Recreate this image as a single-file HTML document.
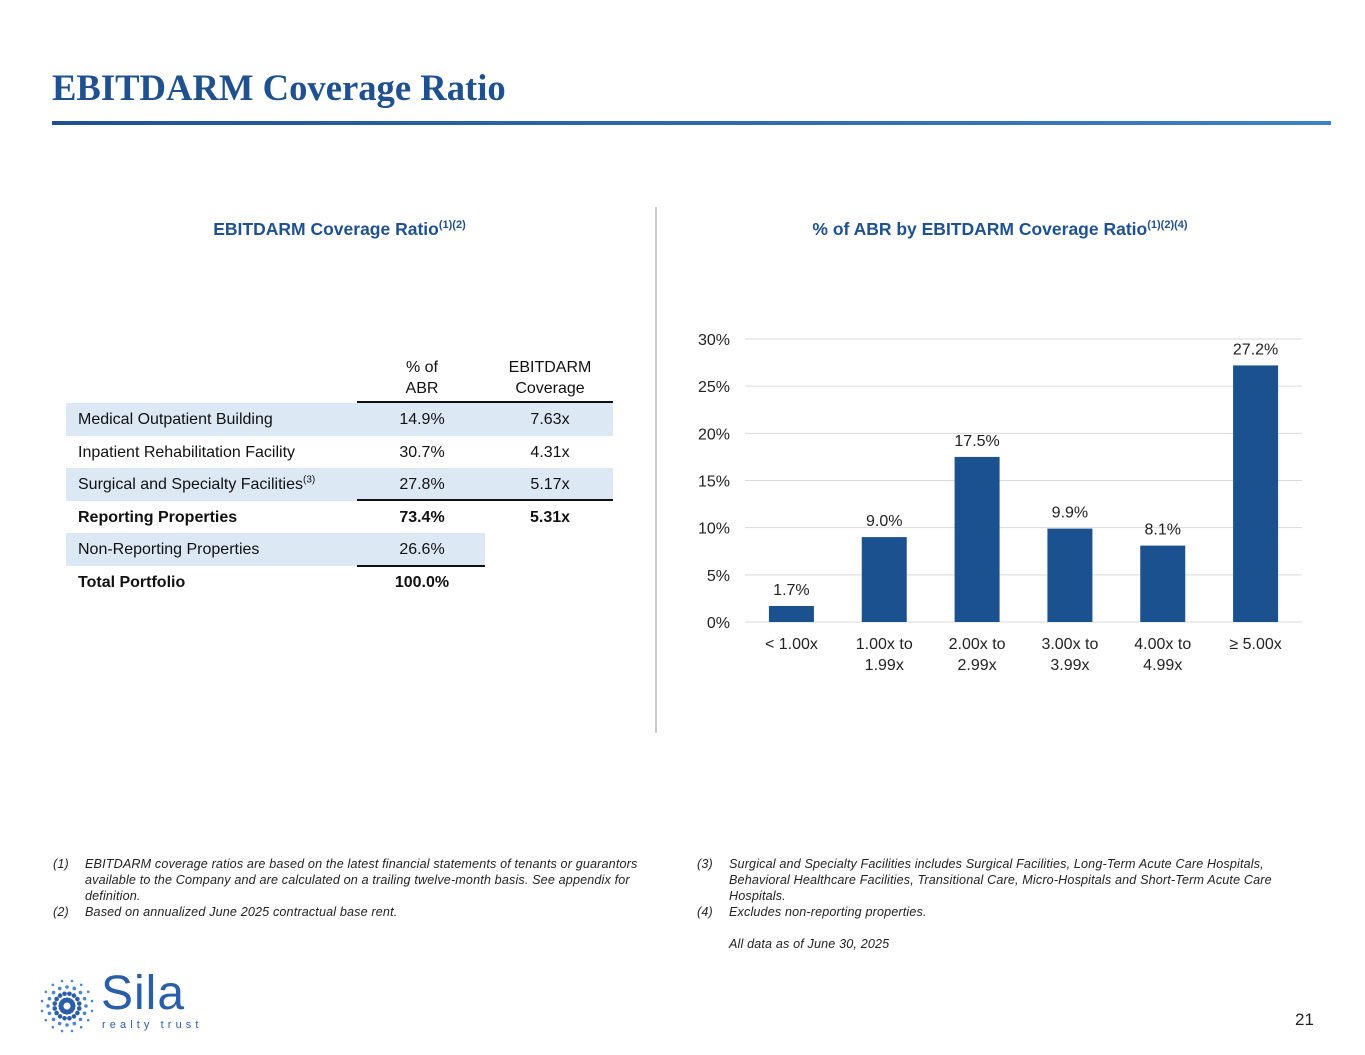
<!DOCTYPE html>
<html><head><meta charset="utf-8"><style>
body{margin:0;width:1365px;height:1055px;background:#fff;position:relative;font-family:"Liberation Sans",sans-serif;overflow:hidden}
.a{position:absolute}
.t{font-family:"Liberation Serif",serif;font-weight:bold;color:#1f5190;font-size:37px;left:52px;top:67px;transform:scaleX(0.99);transform-origin:left}
.h{color:#1f5190;font-weight:bold;font-size:17.5px;text-align:center}
.h sup{font-size:11px}
.row{position:absolute;left:66px;height:33px;font-size:16px;color:#111;line-height:33px}
.c{position:absolute;text-align:center;width:130px}
.fn{font-size:12.6px;letter-spacing:0.15px;font-style:italic;color:#222;line-height:16px}
.fn .n{position:absolute;left:0}
.fn .x{margin-left:32px}
</style></head><body>
<div class="a t">EBITDARM Coverage Ratio</div>
<div class="a" style="left:52px;top:121px;width:1279px;height:4px;background:linear-gradient(90deg,#1f5190,#3d82c4)"></div>
<div class="a h" style="left:66px;width:547px;top:219px">EBITDARM Coverage Ratio<sup>(1)(2)</sup></div>
<div class="a h" style="left:700px;width:600px;top:219px">% of ABR by EBITDARM Coverage Ratio<sup>(1)(2)(4)</sup></div>
<div class="a" style="left:655px;top:207px;width:2px;height:526px;background:#ccc"></div>

<div class="a" style="left:0;top:0">
<div class="a" style="left:357px;top:357px;width:130px;text-align:center;font-size:16px;line-height:21px;color:#111">% of<br>ABR</div>
<div class="a" style="left:485px;top:357px;width:130px;text-align:center;font-size:16px;line-height:21px;color:#111">EBITDARM<br>Coverage</div>
<div class="a" style="left:357px;top:401px;width:256px;height:2px;background:#111"></div>
<div class="row" style="top:403px;width:547px;background:#dde8f5"><span style="margin-left:12px">Medical Outpatient Building</span><span class="c" style="left:291px">14.9%</span><span class="c" style="left:419px">7.63x</span></div>
<div class="row" style="top:436px;width:547px"><span style="margin-left:12px">Inpatient Rehabilitation Facility</span><span class="c" style="left:291px">30.7%</span><span class="c" style="left:419px">4.31x</span></div>
<div class="row" style="top:468px;width:547px;background:#dde8f5"><span style="margin-left:12px">Surgical and Specialty Facilities<sup style="font-size:10px;line-height:0">(3)</sup></span><span class="c" style="left:291px">27.8%</span><span class="c" style="left:419px">5.17x</span></div>
<div class="a" style="left:357px;top:499px;width:256px;height:2px;background:#111"></div>
<div class="row" style="top:501px;width:547px;font-weight:bold"><span style="margin-left:12px">Reporting Properties</span><span class="c" style="left:291px">73.4%</span><span class="c" style="left:419px">5.31x</span></div>
<div class="row" style="top:533px;width:419px;background:#dde8f5"><span style="margin-left:12px">Non-Reporting Properties</span><span class="c" style="left:291px">26.6%</span></div>
<div class="a" style="left:357px;top:565px;width:128px;height:2px;background:#111"></div>
<div class="row" style="top:566px;width:547px;font-weight:bold"><span style="margin-left:12px">Total Portfolio</span><span class="c" style="left:291px">100.0%</span></div>
</div>

<svg class="a" style="left:0;top:0" width="1365" height="1055" id="chart"></svg>

<div class="a fn" style="left:53px;top:856px;width:605px">
<div style="position:relative"><span class="n">(1)</span><div class="x">EBITDARM coverage ratios are based on the latest financial statements of tenants or guarantors available to the Company and are calculated on a trailing twelve-month basis. See appendix for definition.</div></div>
<div style="position:relative"><span class="n">(2)</span><div class="x">Based on annualized June 2025 contractual base rent.</div></div>
</div>
<div class="a fn" style="left:697px;top:856px;width:605px">
<div style="position:relative"><span class="n">(3)</span><div class="x">Surgical and Specialty Facilities includes Surgical Facilities, Long-Term Acute Care Hospitals, Behavioral Healthcare Facilities, Transitional Care, Micro-Hospitals and Short-Term Acute Care Hospitals.</div></div>
<div style="position:relative"><span class="n">(4)</span><div class="x">Excludes non-reporting properties.</div></div>
<div class="x" style="margin-top:16px">All data as of June 30, 2025</div>
</div>

<svg class="a" style="left:37px;top:976px" width="60" height="60" id="logo"></svg>
<div class="a" style="left:101px;top:966px;font-size:48px;color:#2a5ea8;letter-spacing:1px">Sila</div>
<div class="a" style="left:102px;top:1019px;font-size:11px;color:#2a5ea8;letter-spacing:4.1px">realty trust</div>
<div class="a" style="left:1295px;top:1010px;font-size:17px;color:#222">21</div>

<script>
const categories=["< 1.00x","1.00x to|1.99x","2.00x to|2.99x","3.00x to|3.99x","4.00x to|4.99x","≥ 5.00x"];
const values=[1.7,9.0,17.5,9.9,8.1,27.2];
const valueLabels=["1.7%","9.0%","17.5%","9.9%","8.1%","27.2%"];
const ticks=[0,5,10,15,20,25,30];
const NS="http://www.w3.org/2000/svg";
const svg=document.getElementById('chart');
const y0=622,yTop=339,xL=745,xR=1302;
const y=v=>y0-(v/30)*(y0-yTop);
const step=(xR-xL)/categories.length;
const x=i=>xL+step*(i+0.5);
function mk(t,a){const e=document.createElementNS(NS,t);for(const k in a)e.setAttribute(k,a[k]);svg.appendChild(e);return e;}
ticks.forEach(t=>{
 const l=mk('line',{x1:xL,x2:xR,y1:y(t),y2:y(t),stroke:'#d9d9d9','stroke-width':1});
 
 
 const tx=mk('text',{x:730,y:y(t)+6,'text-anchor':'end','font-size':16,fill:'#222','font-family':'Liberation Sans'});
 tx.textContent=t+'%';
 
 
});
values.forEach((v,i)=>{
 const r=mk('rect',{x:x(i)-22.5,y:y(v),width:45,height:y0-y(v),fill:'#1c5190'});
 
 
 const t=mk('text',{x:x(i),y:y(v)-11,'text-anchor':'middle','font-size':16,fill:'#222','font-family':'Liberation Sans'});
 t.textContent=valueLabels[i];
 
 
 categories[i].split('|').forEach((s,j)=>{
  const c=mk('text',{x:x(i),y:649+j*21,'text-anchor':'middle','font-size':16,fill:'#222','font-family':'Liberation Sans'});
  c.textContent=s;
  
  
 });
});
const lg=document.getElementById('logo');
for(let ring=0;ring<4;ring++){const n=16,rad=6+ring*6.5,sz=[2.6,2.3,1.8,1.3][ring];
 for(let k=0;k<n;k++){const a=k*2*Math.PI/n+(ring%2)*Math.PI/n;const c=document.createElementNS(NS,'circle');
 c.setAttribute('cx',30+rad*Math.cos(a));c.setAttribute('cy',30+rad*Math.sin(a));c.setAttribute('r',sz);c.setAttribute('fill',ring<2?'#2a5ea8':'#4a86c8');lg.appendChild(c);}}
</script>
</body></html>
